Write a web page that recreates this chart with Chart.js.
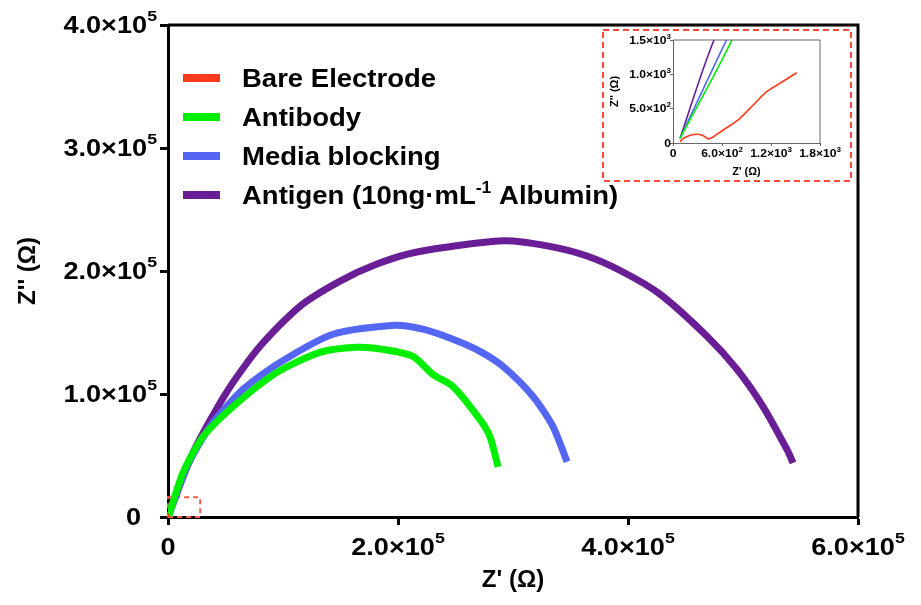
<!DOCTYPE html>
<html>
<head>
<meta charset="utf-8">
<script src="https://cdn.jsdelivr.net/npm/chart.js@4.4.0/dist/chart.umd.min.js"></script>
<style>
html,body{margin:0;padding:0;background:#fff;}
#wrap{position:relative;width:921px;height:605px;}
#main{position:absolute;left:0;top:0;}
#inset{position:absolute;left:601px;top:28px;}
</style>
</head>
<body>
<div id="wrap">
  <canvas id="main" width="921" height="605"></canvas>
  <canvas id="inset" width="252" height="155"></canvas>
</div>
<script>
// series names / colours ( ^{..} marks a superscript )
const seriesNames = ['Bare Electrode', 'Antibody', 'Media blocking', 'Antigen (10ng\u00b7mL^{-1} Albumin)'];
const seriesColors = ['#ff3a1c', '#00ee00', '#5566f2', '#6a1e96'];

// Z' (real) and Z'' (imaginary), ohm
const bareZre = [86, 130, 187, 240, 290, 350, 400, 432, 480, 554, 700, 820, 980, 1147, 1330, 1514];
const bareZim = [19, 70, 102, 120, 127, 118, 85, 60, 80, 141, 255, 360, 550, 747, 884, 1023];

const antibodyZre = [86, 780, 13000, 30400, 56500, 94800, 132200, 164300, 187000, 213000, 230400, 247800, 271300, 280000, 287000];
const antibodyZim = [68, 1650, 35900, 65300, 89800, 117600, 133900, 138000, 136300, 130600, 115900, 106100, 79200, 65300, 40800];

const mediaZre = [86, 700, 16500, 36500, 65200, 97400, 143500, 197400, 221700, 247800, 271300, 291300, 317400, 334800, 347000];
const mediaZim = [68, 1615, 40800, 73500, 103700, 125700, 148600, 155900, 152700, 144500, 134700, 122400, 98000, 73500, 44900];

const antigenZre = [86, 560, 21700, 51300, 80000, 114800, 149600, 181700, 216500, 291300, 329600, 364300, 395700, 427800, 468700, 494800, 517400, 538300, 543500];
const antigenZim = [68, 1655, 52200, 102000, 138800, 171400, 191800, 205700, 215500, 224500, 220400, 212200, 199200, 181200, 146900, 120000, 89800, 54700, 44000];

// dashed box marking the zoomed region near the origin
const zoomBoxZre = [0, 28000, 28000, 0, 0];
const zoomBoxZim = [0, 0, 16000, 16000, 0];

// ticks
const mainXTicks = [0, 200000, 400000, 600000];
const mainXTickLabels = ['0', '2.0\u00d710^{5}', '4.0\u00d710^{5}', '6.0\u00d710^{5}'];
const mainYTicks = [0, 100000, 200000, 300000, 400000];
const mainYTickLabels = ['0', '1.0\u00d710^{5}', '2.0\u00d710^{5}', '3.0\u00d710^{5}', '4.0\u00d710^{5}'];
const insetXTicks = [0, 600, 1200, 1800];
const insetXTickLabels = ['0', '6.0\u00d710^{2}', '1.2\u00d710^{3}', '1.8\u00d710^{3}'];
const insetYTicks = [0, 500, 1000, 1500];
const insetYTickLabels = ['0', '5.0\u00d710^{2}', '1.0\u00d710^{3}', '1.5\u00d710^{3}'];

const FONT = '"Liberation Sans", Arial, sans-serif';
Chart.defaults.font.family = FONT;
Chart.defaults.font.weight = 'bold';
Chart.defaults.color = '#000';

function pts(xs, ys){
  return xs.map((x, i) => ({x: x, y: ys[i]}));
}
const allRe = [bareZre, antibodyZre, mediaZre, antigenZre];
const allIm = [bareZim, antibodyZim, mediaZim, antigenZim];

function makeSets(width){
  return seriesNames.map((name, i) => ({
    label: name.replace(/\^\{([^}]*)\}/g, '$1'),
    data: pts(allRe[i], allIm[i]),
    borderColor: seriesColors[i],
    backgroundColor: seriesColors[i],
    borderWidth: width,
    showLine: true,
    pointRadius: 0,
    tension: 0.25
  }));
}

function fixedTicks(values){
  return function(scale){ scale.ticks = values.map(v => ({value: v})); };
}

// text with ^{sup} parts; st = {size, sup, raise, stretch}; y is the vertical centre of the digits
function richText(ctx, text, x, y, align, st){
  const segs = text.split(/\^\{([^}]*)\}/);
  let w = 0;
  segs.forEach((s, i) => {
    ctx.font = 'bold ' + (i % 2 ? st.sup : st.size) + 'px ' + FONT;
    w += ctx.measureText(s).width;
  });
  const total = w * st.stretch;
  let x0 = align === 'right' ? x - total : align === 'center' ? x - total / 2 : x;
  ctx.save();
  ctx.translate(x0, y + st.size * 0.358);
  ctx.scale(st.stretch, 1);
  ctx.textBaseline = 'alphabetic';
  ctx.textAlign = 'left';
  let cx = 0;
  segs.forEach((s, i) => {
    ctx.font = 'bold ' + (i % 2 ? st.sup : st.size) + 'px ' + FONT;
    ctx.fillText(s, cx, i % 2 ? -st.raise : 0);
    cx += ctx.measureText(s).width;
  });
  ctx.restore();
}

const tickLabelPlugin = {
  id: 'tickLabels',
  afterDraw(chart, args, o){
    const ctx = chart.ctx, xs = chart.scales.x, ys = chart.scales.y, a = chart.chartArea;
    ctx.save();
    ctx.fillStyle = '#000';
    o.xTicks.forEach((v, i) => {
      richText(ctx, o.xLabels[i], xs.getPixelForValue(v), a.bottom + o.xOff, 'center', o.st);
    });
    o.yTicks.forEach((v, i) => {
      const plain = o.yLabels[i].indexOf('^') < 0;
      richText(ctx, o.yLabels[i], a.left - o.yOff - (plain ? o.plainShift : 0), ys.getPixelForValue(v), 'right', o.st);
    });
    ctx.restore();
  }
};

const framePlugin = {
  id: 'frame',
  afterDatasetsDraw(chart, args, opts){
    const a = chart.chartArea, ctx = chart.ctx;
    ctx.save();
    ctx.strokeStyle = opts.color;
    ctx.lineWidth = opts.width;
    ctx.beginPath();
    ctx.moveTo(a.left, a.top);
    ctx.lineTo(a.right, a.top);
    ctx.lineTo(a.right, a.bottom);
    ctx.stroke();
    ctx.restore();
  }
};

const legendPlugin = {
  id: 'boxLegend',
  afterDraw(chart){
    const ctx = chart.ctx;
    ctx.save();
    seriesNames.forEach((name, i) => {
      const y = 78 + i * 39;
      ctx.fillStyle = seriesColors[i];
      ctx.fillRect(183, y - 4, 37, 8);
      ctx.fillStyle = '#000';
      richText(ctx, name, 242, y, 'left', {size: 25, sup: 16, raise: 11, stretch: 1.1});
    });
    ctx.restore();
  }
};

const dashBoxPlugin = {
  id: 'dashBox',
  beforeDraw(chart){
    const ctx = chart.ctx;
    ctx.save();
    ctx.strokeStyle = '#ff4a3a';
    ctx.lineWidth = 2;
    ctx.setLineDash([6, 4]);
    ctx.strokeRect(2, 2, chart.width - 4, chart.height - 4);
    ctx.restore();
  }
};

// main chart
const mainSets = makeSets(7);
mainSets.push({
  label: 'zoom',
  data: pts(zoomBoxZre, zoomBoxZim),
  borderColor: '#ff5a48',
  borderWidth: 2,
  borderDash: [5, 4],
  showLine: true,
  pointRadius: 0,
  tension: 0,
  clip: 4
});

new Chart(document.getElementById('main'), {
  type: 'scatter',
  data: {datasets: mainSets},
  options: {
    responsive: false,
    devicePixelRatio: 1,
    animation: false,
    layout: {padding: {left: 0, right: 63, top: 25, bottom: 0}},
    plugins: {
      legend: {display: false},
      tooltip: {enabled: false},
      frame: {color: '#000', width: 3},
      tickLabels: {
        xTicks: mainXTicks, xLabels: mainXTickLabels,
        yTicks: mainYTicks, yLabels: mainYTickLabels,
        xOff: 30, yOff: 11, plainShift: 16,
        st: {size: 23, sup: 15, raise: 12, stretch: 1.18}
      }
    },
    scales: {
      x: {
        type: 'linear', min: 0, max: 600000,
        afterBuildTicks: fixedTicks(mainXTicks),
        afterFit(s){ s.height = 88; },
        ticks: {display: false},
        grid: {drawOnChartArea: false, tickLength: 8, tickWidth: 3, tickColor: '#000'},
        border: {color: '#000', width: 3},
        title: {display: true, text: "Z' (\u03a9)", font: {size: 24, weight: 'bold'}, padding: {top: 0, bottom: 10}}
      },
      y: {
        type: 'linear', min: 0, max: 400000,
        afterBuildTicks: fixedTicks(mainYTicks),
        afterFit(s){ s.width = 168; },
        ticks: {display: false},
        grid: {drawOnChartArea: false, tickLength: 8, tickWidth: 3, tickColor: '#000'},
        border: {color: '#000', width: 3},
        title: {display: true, text: "Z'' (\u03a9)", font: {size: 24, weight: 'bold'}, padding: {top: 14, bottom: 0}}
      }
    }
  },
  plugins: [framePlugin, legendPlugin, tickLabelPlugin]
});

// inset
new Chart(document.getElementById('inset'), {
  type: 'scatter',
  data: {datasets: makeSets(1.6)},
  options: {
    responsive: false,
    devicePixelRatio: 1,
    animation: false,
    layout: {padding: {left: 0, right: 33, top: 12, bottom: 0}},
    plugins: {
      legend: {display: false},
      tooltip: {enabled: false},
      frame: {color: '#666', width: 1},
      tickLabels: {
        xTicks: insetXTicks, xLabels: insetXTickLabels,
        yTicks: insetYTicks, yLabels: insetYTickLabels,
        xOff: 10, yOff: 2, plainShift: 0,
        st: {size: 10.5, sup: 7, raise: 5, stretch: 1.15}
      }
    },
    scales: {
      x: {
        type: 'linear', min: 0, max: 1800,
        afterBuildTicks: fixedTicks(insetXTicks),
        afterFit(s){ s.height = 40; },
        ticks: {display: false},
        grid: {drawOnChartArea: false, tickLength: 3, tickWidth: 1, tickColor: '#666'},
        border: {color: '#666', width: 1},
        title: {display: true, text: "Z' (\u03a9)", font: {size: 11, weight: 'bold'}, padding: {top: 0, bottom: 4}}
      },
      y: {
        type: 'linear', min: 0, max: 1500,
        afterBuildTicks: fixedTicks(insetYTicks),
        afterFit(s){ s.width = 72; },
        ticks: {display: false},
        grid: {drawOnChartArea: false, tickLength: 3, tickWidth: 1, tickColor: '#666'},
        border: {color: '#666', width: 1},
        title: {display: true, text: "Z'' (\u03a9)", font: {size: 11, weight: 'bold'}, padding: {top: 7, bottom: 0}}
      }
    }
  },
  plugins: [framePlugin, dashBoxPlugin, tickLabelPlugin]
});
</script>
</body>
</html>
